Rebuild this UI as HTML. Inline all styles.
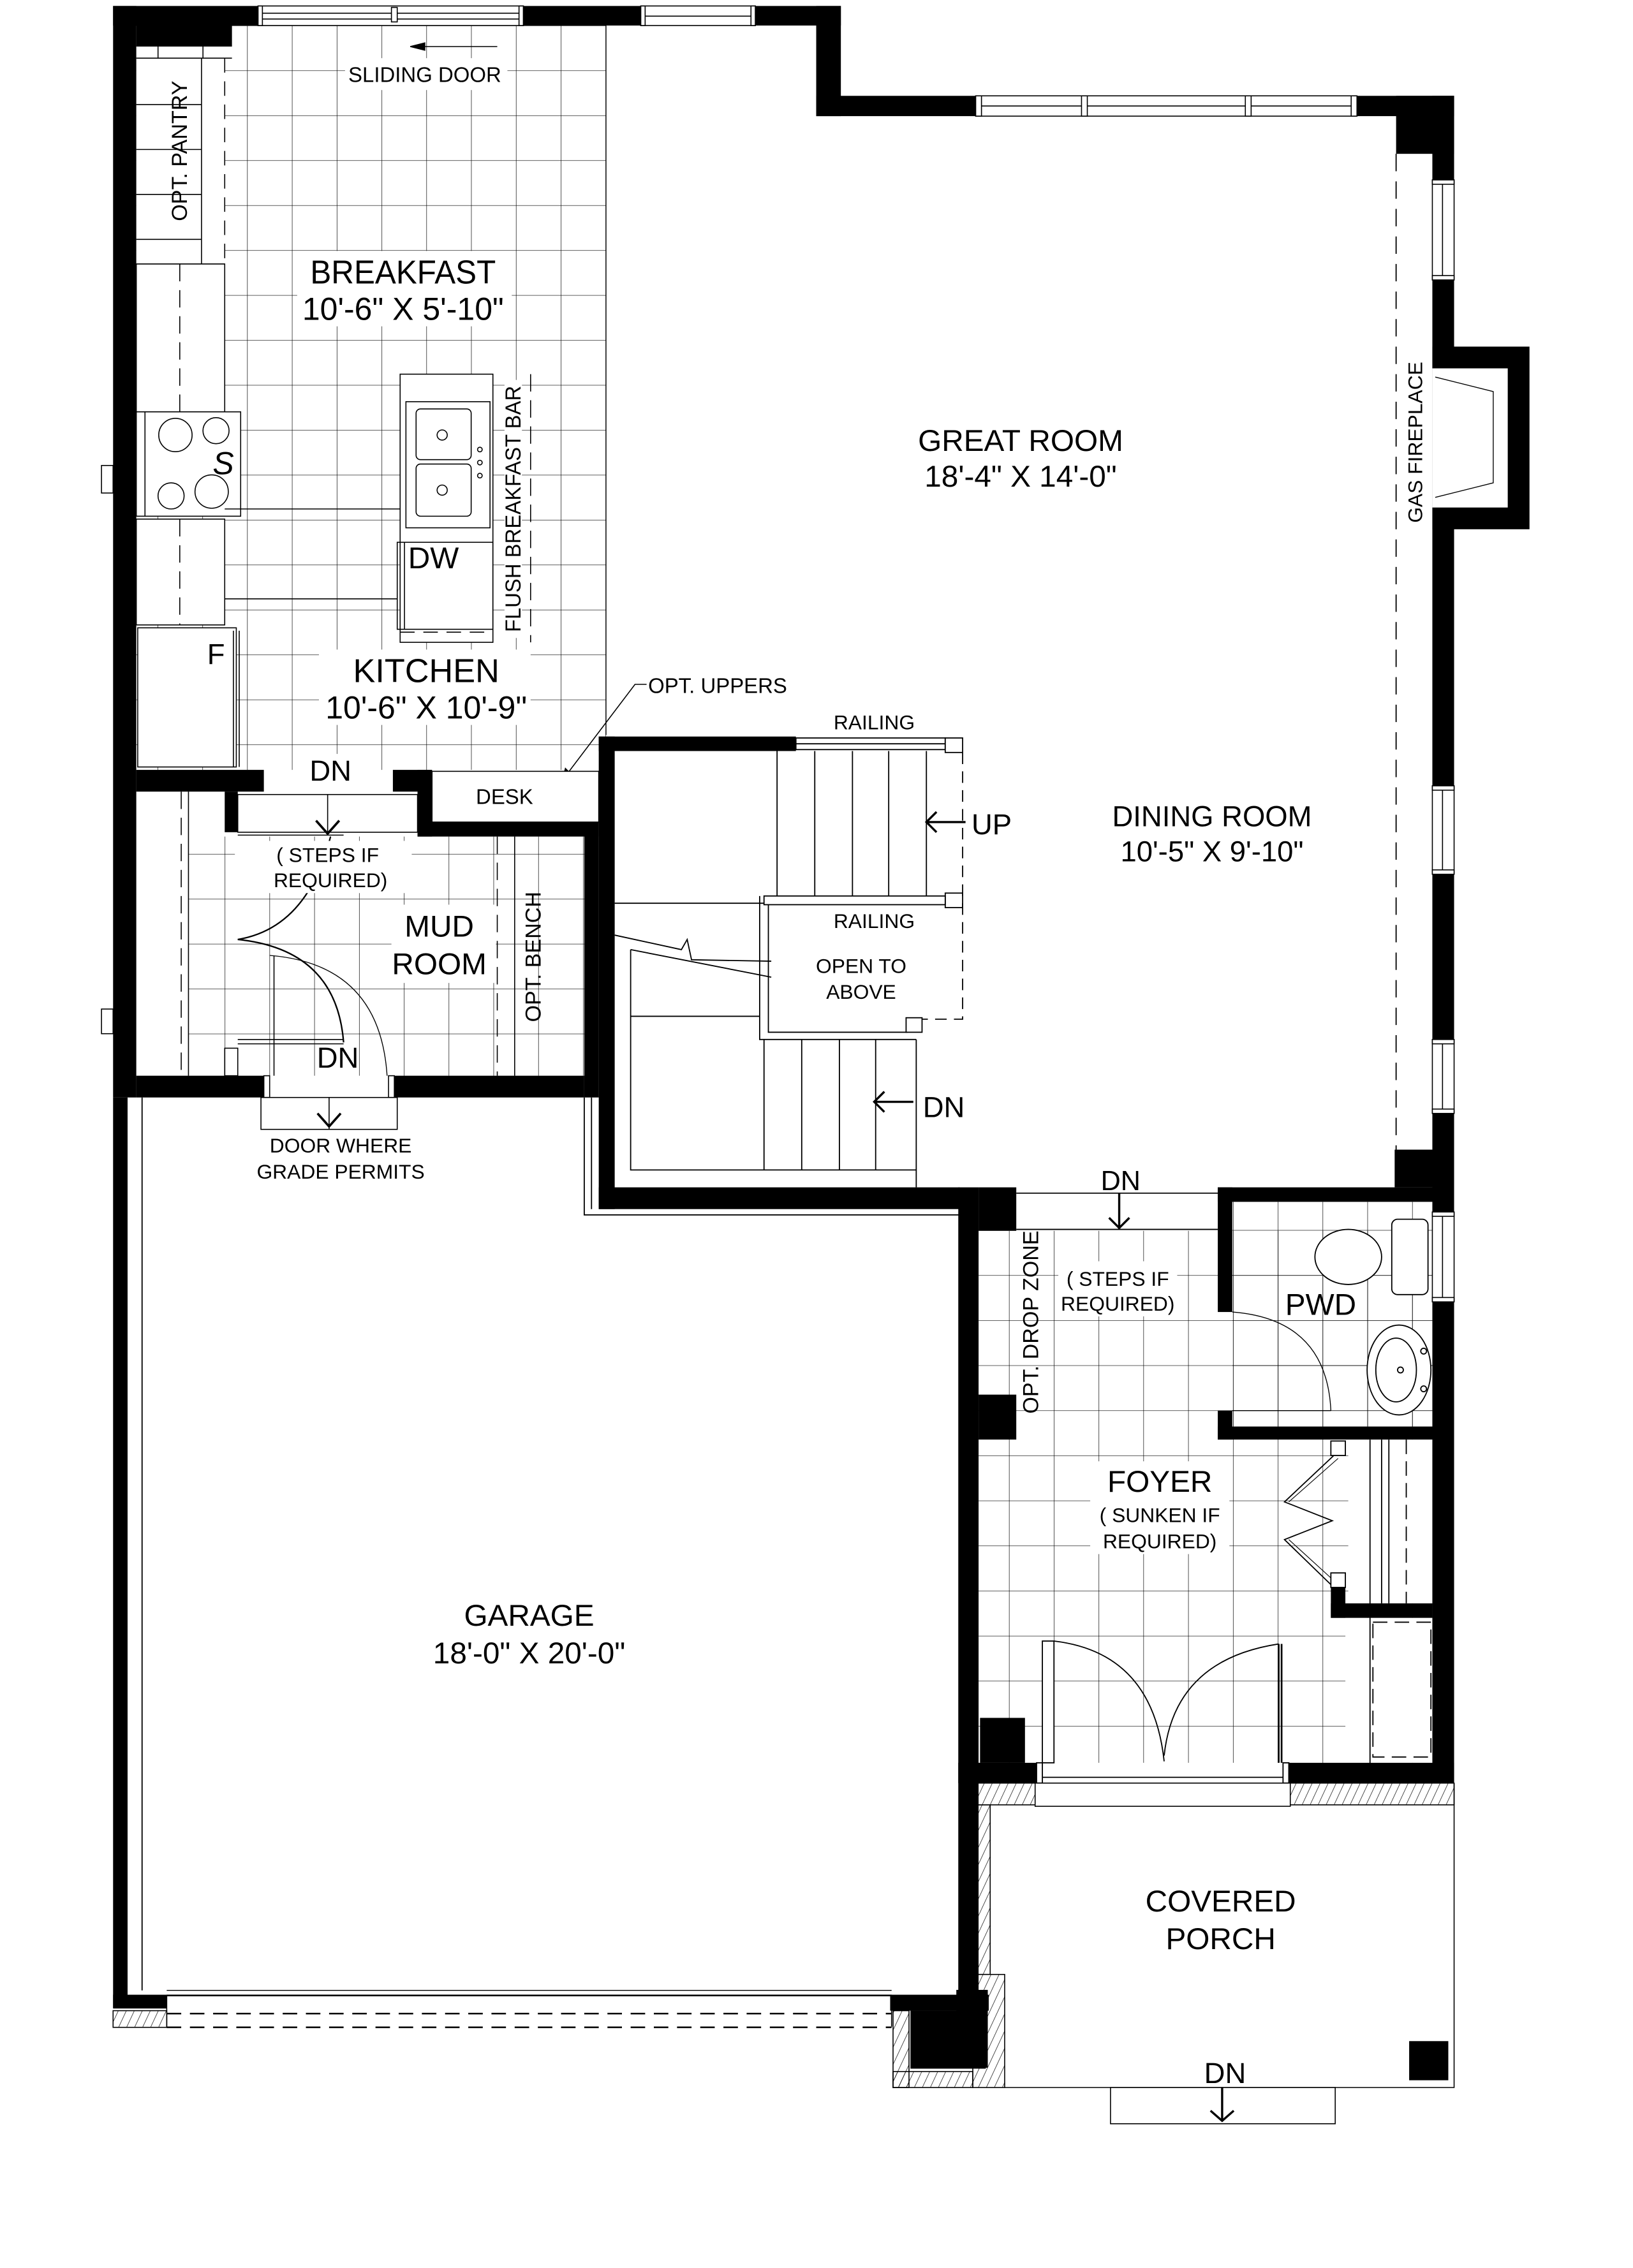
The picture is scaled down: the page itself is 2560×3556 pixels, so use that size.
<!DOCTYPE html>
<html><head><meta charset="utf-8"><style>
html,body{margin:0;padding:0;background:#fff;width:2560px;height:3556px;overflow:hidden}
svg{display:block}
text{font-family:"Liberation Sans",sans-serif;fill:#000}
</style></head><body>
<svg xmlns="http://www.w3.org/2000/svg" width="2560" height="3556" viewBox="0 0 1126.4 1564.4">
<defs>
<pattern id="tk" patternUnits="userSpaceOnUse" x="170.5" y="17.5" width="30.9" height="31"><path d="M0 0H30.9M0 0V31" stroke="#000" stroke-width="0.6" fill="none"/></pattern>
<pattern id="tm" patternUnits="userSpaceOnUse" x="155" y="589" width="30.9" height="31"><path d="M0 0H30.9M0 0V31" stroke="#000" stroke-width="0.6" fill="none"/></pattern>
<pattern id="tf" patternUnits="userSpaceOnUse" x="696" y="1004" width="30.9" height="31.1"><path d="M0 0H30.9M0 0V31.1" stroke="#000" stroke-width="0.6" fill="none"/></pattern>
<pattern id="hat" patternUnits="userSpaceOnUse" width="5" height="5" patternTransform="rotate(25)"><path d="M0 0V5" stroke="#000" stroke-width="0.6"/></pattern>
</defs>
<rect width="1126.4" height="1564.4" fill="#fff"/>

<!-- tiles -->
<rect x="94" y="17" width="324" height="514" fill="url(#tk)"/>
<rect x="130" y="577" width="273" height="165" fill="url(#tm)"/>
<rect x="675" y="849" width="313" height="367" fill="url(#tf)"/>
<rect x="850" y="829" width="138" height="155" fill="url(#tf)"/>
<rect x="930" y="993" width="58" height="113" fill="#fff"/>
<rect x="928" y="1116" width="60" height="100" fill="#fff"/>
<line x1="418" y1="17" x2="418" y2="507" stroke="#000" stroke-width="0.6"/>

<g fill="none" stroke="#000" stroke-width="0.7">
<!-- pantry -->
<rect x="94" y="32" width="61" height="150" fill="#fff" stroke="none"/>
<path d="M94 40H160M109 32V40M140 32V40M139 40V182M94 72H139M94 103H139M94 134H139M94 165H139M94 182H155"/>
<path d="M155 40V182" stroke-dasharray="10 6"/>
<!-- counters -->
<rect x="94" y="182" width="61" height="102" fill="#fff"/>
<path d="M124 182V284" stroke-dasharray="12 6"/>
<rect x="94" y="284" width="72" height="72" fill="#fff"/>
<path d="M100 284V356"/>
<circle cx="121" cy="300" r="11.5"/><circle cx="149" cy="297" r="9"/><circle cx="118" cy="342" r="9"/><circle cx="146" cy="339" r="11.5"/>
<rect x="94" y="358" width="61" height="73" fill="#fff"/>
<path d="M124 358V431" stroke-dasharray="12 6"/>
<path d="M155 351H276M155 413H274"/>
<rect x="95" y="433" width="68" height="96" fill="#fff"/>
<path d="M161 435V529M165 435V529"/>
<!-- island -->
<rect x="276" y="258" width="64" height="185" fill="#fff"/>
<rect x="280" y="277" width="58" height="87"/>
<rect x="287" y="282" width="38" height="35" rx="3"/><rect x="287" y="320" width="38" height="36" rx="3"/>
<circle cx="305" cy="300" r="3.5"/><circle cx="305" cy="338" r="3.5"/>
<circle cx="331" cy="310" r="1.6"/><circle cx="331" cy="319" r="1.6"/><circle cx="331" cy="328" r="1.6"/>
<rect x="274" y="374" width="66" height="60"/>
<path d="M279 374V434"/>
<path d="M276 436H340" stroke-dasharray="10 6"/>
<path d="M366 258V443" stroke-dasharray="12 6"/>
<rect x="348" y="262" width="12" height="178" fill="#fff" stroke="none"/>
<!-- leader -->
<path d="M446 472H438L388 538"/>
<path d="M388 538L390 530L394 534Z" fill="#000"/>
<!-- sliding door arrow -->
<path d="M286 32H343"/><path d="M283 32L293 29.5V34.5Z" fill="#000"/>
<!-- vents -->
<rect x="70" y="321" width="8" height="19" fill="#fff"/>
<rect x="70" y="696" width="8" height="17" fill="#fff"/>
</g>

<!-- mudroom -->
<g fill="none" stroke="#000" stroke-width="0.7">
<rect x="94" y="546" width="36" height="196" fill="#fff" stroke="none"/>
<path d="M130 546V742"/><path d="M125 546V742" stroke-dasharray="12 6"/>
<rect x="164" y="548" width="124" height="26" fill="#fff"/>
<path d="M164 576H237"/>
<path d="M226 548V575"/><path d="M218 566L226 575L234 566" stroke-width="1.6"/>
<path d="M343 577V742" stroke-dasharray="12 6"/>
<path d="M355 577V742"/>
<path d="M164 648Q212 640 228 577" stroke-width="1"/>
<path d="M164 648Q232 655 237 719" stroke-width="1"/>
<path d="M186 659Q262 665 267 742" stroke-width="0.6"/>
<path d="M189 659V742M164 717H237M164 720H237"/>
<rect x="155" y="723" width="9" height="19"/>
<rect x="180" y="757" width="94" height="22" fill="#fff"/>
<path d="M227 757V779"/><path d="M219 768L227 777L235 768" stroke-width="1.6"/>
<rect x="182" y="742" width="4" height="15"/><rect x="268" y="742" width="4" height="15"/>
<rect x="298" y="532" width="115" height="35" fill="#fff"/>
</g>

<!-- walls -->
<g fill="#000">
<rect x="78" y="4" width="16" height="753"/>
<rect x="78" y="757" width="10" height="628"/>
<rect x="78" y="4" width="100" height="13.5"/>
<rect x="94" y="17" width="66" height="15"/>
<rect x="361" y="4" width="81" height="13.5"/>
<rect x="521" y="4" width="59" height="13.5"/>
<rect x="563" y="4" width="17" height="76"/>
<rect x="563" y="66" width="110" height="14"/>
<rect x="935" y="66" width="68" height="14"/>
<rect x="963" y="66" width="40" height="40"/>
<rect x="988" y="66" width="15" height="58"/>
<rect x="988" y="193" width="15" height="349"/>
<rect x="988" y="239" width="67" height="126"/>
<rect x="988" y="603" width="15" height="114"/>
<rect x="988" y="768" width="15" height="68"/>
<rect x="988" y="898" width="15" height="332"/>
<rect x="962" y="793" width="27" height="26"/>
<rect x="840" y="819" width="149" height="10"/>
<rect x="840" y="819" width="10" height="86"/>
<rect x="840" y="973" width="10" height="20"/>
<rect x="840" y="984" width="149" height="9"/>
<rect x="661" y="819" width="14" height="557"/>
<rect x="675" y="819" width="26" height="30"/>
<rect x="675" y="962" width="26" height="31"/>
<rect x="676" y="1185" width="31" height="31"/>
<rect x="661" y="1216" width="54" height="14"/>
<rect x="889" y="1216" width="114" height="14"/>
<rect x="918" y="1106" width="70" height="10"/>
<rect x="918" y="1095" width="10" height="21"/>
<rect x="413" y="508" width="136" height="10"/>
<rect x="413" y="508" width="11" height="326"/>
<rect x="413" y="819" width="249" height="15"/>
<rect x="94" y="531" width="88" height="15"/>
<rect x="271" y="531" width="27" height="15"/>
<rect x="288" y="531" width="10" height="46"/>
<rect x="288" y="567" width="125" height="10"/>
<rect x="403" y="567" width="10" height="190"/>
<rect x="155" y="546" width="9" height="28"/>
<rect x="94" y="742" width="88" height="15"/>
<rect x="272" y="742" width="131" height="15"/>
<rect x="78" y="1376" width="37" height="9.5"/>
<rect x="614" y="1376" width="68" height="11"/>
<rect x="628" y="1387" width="52" height="40"/>
<rect x="972" y="1408" width="27" height="27"/>
</g>
<!-- fireplace inner -->
<rect x="988" y="254" width="52" height="96" fill="#fff"/>
<path d="M990 260L1030 270V333L990 343" fill="none" stroke="#000" stroke-width="0.6"/>
<path d="M963 106V793" stroke="#000" stroke-width="0.8" fill="none" stroke-dasharray="12 7"/>

<!-- windows -->
<g fill="#fff" stroke="#000" stroke-width="0.7">
<rect x="178" y="4" width="183" height="13.5"/>
<path d="M178 9H361M178 13H361" fill="none"/>
<rect x="178" y="4" width="3" height="13.5"/><rect x="270" y="5" width="4" height="10"/><rect x="358" y="4" width="3" height="13.5"/>
<rect x="442" y="4" width="79" height="13.5"/>
<path d="M442 11H521" fill="none"/>
<rect x="442" y="4" width="3" height="13.5"/><rect x="518" y="4" width="3" height="13.5"/>
<rect x="673" y="66" width="262" height="14"/>
<path d="M673 73H935" fill="none"/>
<rect x="673" y="66" width="4" height="14"/><rect x="746" y="66" width="4" height="14"/><rect x="859" y="66" width="4" height="14"/><rect x="932" y="66" width="4" height="14"/>
<rect x="988" y="124" width="15" height="69"/><path d="M995 124V193" fill="none"/>
<rect x="988" y="124" width="15" height="3"/><rect x="988" y="190" width="15" height="3"/>
<rect x="988" y="542" width="15" height="61"/><path d="M995 542V603" fill="none"/>
<rect x="988" y="542" width="15" height="3"/><rect x="988" y="600" width="15" height="3"/>
<rect x="988" y="717" width="15" height="51"/><path d="M995 717V768" fill="none"/>
<rect x="988" y="717" width="15" height="3"/><rect x="988" y="765" width="15" height="3"/>
<rect x="988" y="836" width="15" height="62"/><path d="M995 836V898" fill="none"/>
<rect x="988" y="836" width="15" height="3"/><rect x="988" y="895" width="15" height="3"/>
</g>

<!-- stairs -->
<g fill="none" stroke="#000" stroke-width="0.8">
<path d="M536 518V623M562 518V623M588 518V623M613 518V623M639 518V623"/>
<rect x="549" y="509" width="103" height="8" fill="#fff"/><path d="M549 513H652"/>
<rect x="652" y="509" width="12" height="10" fill="#fff"/>
<rect x="652" y="616" width="12" height="10" fill="#fff"/>
<path d="M664 519V703H636" stroke-dasharray="8 5"/>
<path d="M424 623H527"/>
<rect x="527" y="618" width="125" height="6" fill="#fff"/>
<path d="M524 618V717H632M530 624V712H626"/>
<rect x="625" y="702" width="11" height="10" fill="#fff"/>
<path d="M424 645L470 655L474 648L477 662L532 663M435 655L532 674"/>
<path d="M435 655V807H632M435 701H524M632 717V819"/>
<path d="M527 717V807M553 717V807M579 717V807M604 717V807"/>
<path d="M639 567H666M646 560L639 567L646 574" stroke-width="1.5"/>
<path d="M603 760H630M610 753L603 760L610 767" stroke-width="1.5"/>
<path d="M403 757V838H662M408 757V834"/>
<path d="M98 757V1373"/>
<path d="M701 823H840M701 848H840"/>
<path d="M772 823V848M765 840L772 847L779 840" stroke-width="1.5"/>
<!-- pwd -->
<rect x="960" y="841" width="25" height="52" rx="4" fill="#fff"/>
<ellipse cx="930" cy="867" rx="23" ry="19" fill="#fff"/>
<ellipse cx="965" cy="945" rx="22" ry="31" fill="#fff"/>
<ellipse cx="963" cy="945" rx="14" ry="22"/>
<circle cx="966" cy="945" r="2"/><circle cx="982" cy="932" r="2"/><circle cx="982" cy="958" r="2"/>
<path d="M850 905Q915 910 918 973M850 973H918" stroke-width="0.6"/>
<!-- closet -->
<path d="M920 1004L886 1036L919 1049L886 1062L920 1095" />
<path d="M923 1006L889 1036M923 1093L889 1062" stroke-width="0.5"/>
<rect x="918" y="994" width="10" height="10" fill="#fff"/>
<rect x="918" y="1085" width="10" height="10" fill="#fff"/>
<path d="M945 993V1230M953 993V1106M958 993V1106"/>
<path d="M970 993V1106" stroke-dasharray="10 5"/>
<rect x="947" y="1119" width="40" height="93" stroke-dasharray="10 5"/>
<!-- foyer doors -->
<rect x="719" y="1132" width="8" height="84" fill="#fff"/>
<path d="M727 1132Q795 1140 803 1215"/>
<path d="M882 1134Q810 1145 803 1211"/>
<path d="M882 1134V1216M884 1134V1216" stroke-width="1.2"/>
<rect x="715" y="1216" width="4" height="14" fill="#fff"/><rect x="885" y="1216" width="4" height="14" fill="#fff"/>
<path d="M719 1226H885"/>
</g>

<!-- porch -->
<g stroke="#000" stroke-width="0.7">
<rect x="671" y="1230" width="332" height="15" fill="url(#hat)"/>
<rect x="671" y="1245" width="12" height="117" fill="url(#hat)"/>
<rect x="671" y="1362" width="22" height="78" fill="url(#hat)"/>
<rect x="660" y="1373" width="21" height="53" fill="#000"/>
<rect x="78" y="1387" width="37" height="11.5" fill="url(#hat)"/>
<rect x="616" y="1387" width="11" height="53" fill="url(#hat)"/>
<rect x="616" y="1429" width="55" height="11" fill="url(#hat)"/>
<rect x="714" y="1230" width="176" height="16" fill="#fff"/>
<path d="M1003 1230V1440H693" fill="none"/>
<rect x="766" y="1440" width="155" height="25" fill="#fff"/>
<path d="M843 1440V1463M835 1456L843 1463L851 1456" fill="none" stroke-width="1.5"/>
<!-- garage door -->
<path d="M115 1373H615" fill="none" stroke-width="0.6"/>
<path d="M115 1376.5H615" fill="none" stroke-width="1.2"/>
<path d="M115 1389H615M115 1398.5H615" fill="none" stroke-width="1.1" stroke-dasharray="10 6"/>
<path d="M115 1376V1398M615 1376V1398" fill="none"/>
</g>

<!-- label backgrounds -->
<g fill="#fff">
<rect x="238" y="40" width="112" height="22"/>
<rect x="205" y="173" width="148" height="52"/>
<rect x="220" y="448" width="146" height="52"/>
<rect x="208" y="520" width="50" height="24"/>
<rect x="162" y="580" width="122" height="36"/>
<rect x="270" y="624" width="72" height="54"/>
<rect x="730" y="870" width="82" height="38"/>
<rect x="752" y="1008" width="96" height="64"/>
<rect x="627" y="1" width="1" height="1"/>
</g>

<!-- text -->
<g text-anchor="middle">
<text x="293" y="56.5" font-size="14.5">SLIDING DOOR</text>
<text transform="translate(129,104) rotate(-90)" font-size="15">OPT. PANTRY</text>
<text x="278" y="195.5" font-size="23" textLength="128" lengthAdjust="spacingAndGlyphs">BREAKFAST</text>
<text x="278" y="220.5" font-size="22">10'-6" X 5'-10"</text>
<text x="294" y="470.5" font-size="23">KITCHEN</text>
<text x="294" y="495.5" font-size="22">10'-6" X 10'-9"</text>
<text x="299" y="392" font-size="21">DW</text>
<text x="154" y="327" font-size="22" font-style="italic">S</text>
<text x="149" y="458" font-size="20">F</text>
<text transform="translate(359,351) rotate(-90)" font-size="15" textLength="170" lengthAdjust="spacingAndGlyphs">FLUSH BREAKFAST BAR</text>
<text x="495" y="478" font-size="14.5">OPT. UPPERS</text>
<text x="228" y="538.5" font-size="20">DN</text>
<text x="348" y="554.5" font-size="14.5">DESK</text>
<text x="226" y="594.5" font-size="14">( STEPS IF</text>
<text x="228" y="612" font-size="14">REQUIRED)</text>
<text x="303" y="646" font-size="21">MUD</text>
<text x="303" y="672" font-size="21">ROOM</text>
<text transform="translate(373,660) rotate(-90)" font-size="15">OPT. BENCH</text>
<text x="233" y="736.5" font-size="20">DN</text>
<text x="235" y="795" font-size="14">DOOR WHERE</text>
<text x="235" y="813" font-size="14">GRADE PERMITS</text>
<text x="704" y="311" font-size="21">GREAT ROOM</text>
<text x="704" y="335.5" font-size="21">18'-4" X 14'-0"</text>
<text transform="translate(981,305) rotate(-90)" font-size="14">GAS FIREPLACE</text>
<text x="603" y="503" font-size="14">RAILING</text>
<text x="603" y="640" font-size="14">RAILING</text>
<text x="684" y="575.5" font-size="20">UP</text>
<text x="836" y="570" font-size="20">DINING ROOM</text>
<text x="836" y="594" font-size="20">10'-5" X 9'-10"</text>
<text x="594" y="671" font-size="14">OPEN TO</text>
<text x="594" y="689" font-size="14">ABOVE</text>
<text x="651" y="770.5" font-size="20">DN</text>
<text x="773" y="821" font-size="19">DN</text>
<text x="771" y="887" font-size="14">( STEPS IF</text>
<text x="771" y="904" font-size="14">REQUIRED)</text>
<text x="911" y="907" font-size="21">PWD</text>
<text transform="translate(716,912) rotate(-90)" font-size="15">OPT. DROP ZONE</text>
<text x="800" y="1029" font-size="21">FOYER</text>
<text x="800" y="1050" font-size="14">( SUNKEN IF</text>
<text x="800" y="1068" font-size="14">REQUIRED)</text>
<text x="365" y="1121.5" font-size="21">GARAGE</text>
<text x="365" y="1147.5" font-size="21">18'-0" X 20'-0"</text>
<text x="842" y="1318.5" font-size="21">COVERED</text>
<text x="842" y="1344.5" font-size="21">PORCH</text>
<text x="845" y="1437" font-size="20">DN</text>
</g>
</svg>
</body></html>
